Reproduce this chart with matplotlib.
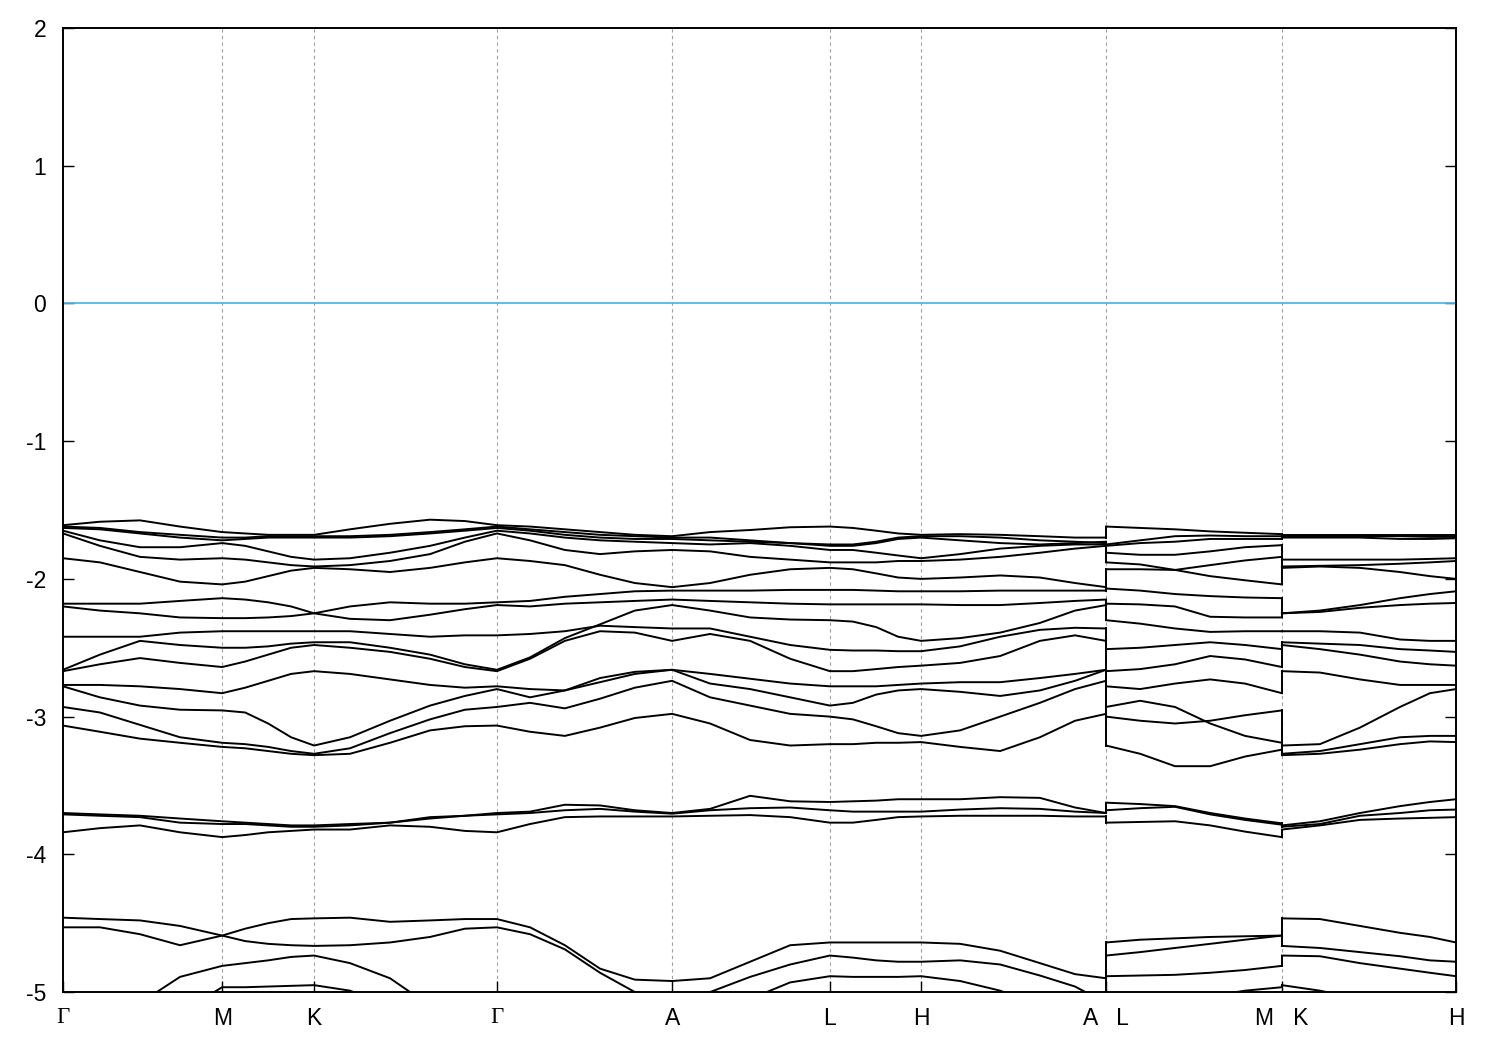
import numpy as np
import matplotlib
matplotlib.use("Agg")
import matplotlib.pyplot as plt

# high-symmetry points along the k-path
tick_pos = [0.0, 0.457, 0.721, 1.246, 1.749, 2.202, 2.464, 2.995, 3.500, 4.000]
tick_labels = ["Γ", "M", "K", "Γ", "A", "L", "H", "A   L", "M   K", "H"]

# k sample points: Γ-M-K-Γ-A-L-H-A | L-M | K-H
k_main = [0.000, 0.106, 0.221, 0.336, 0.457, 0.523, 0.589, 0.655, 0.721,
          0.824, 0.939, 1.054, 1.154, 1.246, 1.341, 1.441, 1.542, 1.642, 1.749,
          1.858, 1.973, 2.088, 2.202, 2.268, 2.335, 2.398, 2.464,
          2.576, 2.691, 2.805, 2.906, 2.995]
k_lm = [2.995, 3.093, 3.193, 3.294, 3.394, 3.500]
k_kh = [3.500, 3.609, 3.724, 3.839, 3.925, 4.000]

# energies (eV) per band: 32 points on the main path, then 6 on L-M, then 6 on K-H
top1 = [-1.61, -1.585, -1.575, -1.62, -1.66, -1.67, -1.68, -1.68, -1.68, -1.64, -1.60, -1.57, -1.58, -1.61,
        -1.62, -1.64, -1.66, -1.68, -1.69, -1.66, -1.645, -1.625, -1.62, -1.63, -1.65, -1.67, -1.68,
        -1.675, -1.68, -1.69, -1.70, -1.70,
        -1.62, -1.63, -1.64, -1.655, -1.665, -1.675,
        -1.68, -1.68, -1.68, -1.68, -1.68, -1.68]
top2 = [-1.62, -1.63, -1.66, -1.68, -1.70, -1.70, -1.69, -1.69, -1.69, -1.69, -1.68, -1.66, -1.64, -1.62,
        -1.64, -1.66, -1.68, -1.69, -1.70, -1.70, -1.72, -1.74, -1.76, -1.76, -1.74, -1.71, -1.70,
        -1.72, -1.74, -1.75, -1.74, -1.73,
        -1.75, -1.72, -1.69, -1.685, -1.69, -1.69,
        -1.69, -1.69, -1.69, -1.69, -1.695, -1.695]
top3 = [-1.63, -1.64, -1.67, -1.70, -1.72, -1.71, -1.70, -1.70, -1.70, -1.70, -1.69, -1.67, -1.65, -1.63,
        -1.65, -1.68, -1.70, -1.71, -1.71, -1.72, -1.73, -1.74, -1.75, -1.75, -1.73, -1.70, -1.69,
        -1.69, -1.70, -1.72, -1.73, -1.74,
        -1.76, -1.74, -1.73, -1.71, -1.71, -1.71,
        -1.70, -1.70, -1.70, -1.71, -1.71, -1.705]
top4 = [-1.65, -1.72, -1.77, -1.77, -1.74, -1.76, -1.80, -1.84, -1.86, -1.85, -1.81, -1.76, -1.70, -1.65,
        -1.67, -1.70, -1.72, -1.73, -1.74, -1.75, -1.74, -1.76, -1.79, -1.79, -1.81, -1.83, -1.85,
        -1.82, -1.78, -1.76, -1.75, -1.75,
        -1.81, -1.825, -1.825, -1.80, -1.77, -1.755,
        -1.86, -1.86, -1.86, -1.86, -1.855, -1.85]
top5 = [-1.67, -1.76, -1.84, -1.86, -1.85, -1.86, -1.88, -1.90, -1.91, -1.90, -1.87, -1.82, -1.73, -1.67,
        -1.72, -1.79, -1.82, -1.80, -1.79, -1.80, -1.84, -1.86, -1.88, -1.88, -1.88, -1.87, -1.87,
        -1.86, -1.84, -1.81, -1.78, -1.76,
        -1.93, -1.93, -1.935, -1.90, -1.866, -1.84,
        -1.91, -1.905, -1.90, -1.89, -1.88, -1.87]
top6 = [-1.85, -1.88, -1.95, -2.02, -2.04, -2.02, -1.98, -1.94, -1.92, -1.93, -1.95, -1.92, -1.88, -1.85,
        -1.87, -1.90, -1.97, -2.03, -2.06, -2.03, -1.97, -1.93, -1.92, -1.93, -1.96, -1.99, -2.00,
        -1.99, -1.975, -1.99, -2.03, -2.06,
        -1.88, -1.895, -1.935, -1.98, -2.01, -2.04,
        -1.92, -1.91, -1.92, -1.95, -1.98, -2.00]

mid1 = [-2.18, -2.18, -2.18, -2.16, -2.14, -2.15, -2.17, -2.20, -2.25, -2.29, -2.30, -2.26, -2.22, -2.19,
        -2.20, -2.18, -2.17, -2.16, -2.15, -2.16, -2.17, -2.18, -2.185, -2.185, -2.185, -2.185, -2.185,
        -2.19, -2.19, -2.175, -2.16, -2.15,
        -2.18, -2.185, -2.20, -2.275, -2.28, -2.28,
        -2.25, -2.24, -2.21, -2.19, -2.18, -2.175]
mid2 = [-2.20, -2.23, -2.25, -2.28, -2.285, -2.285, -2.28, -2.27, -2.25, -2.20, -2.17, -2.18, -2.18, -2.17,
        -2.16, -2.13, -2.11, -2.09, -2.085, -2.085, -2.085, -2.08, -2.08, -2.08, -2.085, -2.09, -2.09,
        -2.09, -2.085, -2.085, -2.085, -2.085,
        -2.07, -2.085, -2.11, -2.125, -2.135, -2.14,
        -2.25, -2.23, -2.19, -2.14, -2.11, -2.09]
mid3 = [-2.42, -2.42, -2.42, -2.39, -2.38, -2.38, -2.38, -2.38, -2.38, -2.38, -2.40, -2.42, -2.41, -2.41,
        -2.40, -2.38, -2.34, -2.35, -2.36, -2.36, -2.42, -2.48, -2.515, -2.52, -2.52, -2.525, -2.525,
        -2.49, -2.42, -2.37, -2.355, -2.36,
        -2.51, -2.50, -2.48, -2.46, -2.48, -2.51,
        -2.38, -2.38, -2.39, -2.44, -2.45, -2.45]
mid4 = [-2.66, -2.55, -2.45, -2.48, -2.50, -2.50, -2.49, -2.47, -2.46, -2.46, -2.50, -2.55, -2.62, -2.66,
        -2.57, -2.43, -2.33, -2.23, -2.19, -2.23, -2.28, -2.295, -2.30, -2.31, -2.35, -2.42, -2.45,
        -2.43, -2.39, -2.32, -2.23, -2.19,
        -2.30, -2.325, -2.36, -2.385, -2.38, -2.38,
        -2.46, -2.47, -2.48, -2.51, -2.52, -2.53]
mid5 = [-2.67, -2.62, -2.575, -2.61, -2.64, -2.60, -2.55, -2.50, -2.48, -2.50, -2.53, -2.58, -2.64, -2.67,
        -2.58, -2.45, -2.38, -2.39, -2.45, -2.40, -2.45, -2.58, -2.67, -2.67, -2.655, -2.64, -2.63,
        -2.61, -2.56, -2.45, -2.41, -2.45,
        -2.67, -2.655, -2.62, -2.56, -2.585, -2.64,
        -2.48, -2.51, -2.55, -2.60, -2.62, -2.63]
mid6 = [-2.77, -2.77, -2.78, -2.80, -2.83, -2.79, -2.74, -2.69, -2.67, -2.69, -2.73, -2.77, -2.79, -2.78,
        -2.80, -2.81, -2.75, -2.69, -2.66, -2.69, -2.725, -2.76, -2.78, -2.78, -2.78, -2.77, -2.76,
        -2.75, -2.75, -2.72, -2.69, -2.66,
        -2.78, -2.80, -2.76, -2.73, -2.76, -2.83,
        -2.67, -2.68, -2.73, -2.77, -2.77, -2.77]

low1 = [-2.78, -2.86, -2.92, -2.95, -2.955, -2.97, -3.05, -3.15, -3.21, -3.15, -3.03, -2.92, -2.85, -2.80,
        -2.86, -2.81, -2.72, -2.675, -2.66, -2.76, -2.80, -2.86, -2.92, -2.90, -2.84, -2.81, -2.80,
        -2.82, -2.85, -2.81, -2.74, -2.66,
        -2.93, -2.885, -2.93, -3.05, -3.14, -3.19,
        -3.21, -3.20, -3.08, -2.93, -2.83, -2.80]
low2 = [-2.93, -2.97, -3.06, -3.15, -3.19, -3.20, -3.22, -3.25, -3.27, -3.23, -3.12, -3.02, -2.95, -2.93,
        -2.90, -2.94, -2.87, -2.79, -2.74, -2.86, -2.92, -2.98, -3.00, -3.02, -3.07, -3.12, -3.14,
        -3.10, -3.00, -2.90, -2.80, -2.74,
        -3.00, -3.03, -3.05, -3.03, -2.99, -2.955,
        -3.27, -3.25, -3.20, -3.15, -3.14, -3.14]
low3 = [-3.065, -3.11, -3.16, -3.19, -3.22, -3.23, -3.25, -3.27, -3.28, -3.27, -3.19, -3.10, -3.07, -3.065,
        -3.11, -3.14, -3.08, -3.01, -2.98, -3.05, -3.17, -3.21, -3.20, -3.20, -3.19, -3.19, -3.185,
        -3.22, -3.25, -3.15, -3.03, -2.98,
        -3.21, -3.27, -3.36, -3.36, -3.29, -3.24,
        -3.28, -3.27, -3.24, -3.20, -3.18, -3.185]

d1 = [-3.70, -3.71, -3.72, -3.74, -3.76, -3.77, -3.78, -3.79, -3.79, -3.78, -3.77, -3.73, -3.72, -3.70,
      -3.69, -3.64, -3.645, -3.68, -3.70, -3.67, -3.575, -3.615, -3.62, -3.615, -3.61, -3.60, -3.60,
      -3.60, -3.585, -3.59, -3.66, -3.70,
      -3.625, -3.635, -3.65, -3.70, -3.74, -3.775,
      -3.79, -3.76, -3.70, -3.65, -3.62, -3.60]
d2 = [-3.71, -3.72, -3.73, -3.77, -3.78, -3.78, -3.79, -3.80, -3.80, -3.79, -3.77, -3.74, -3.72, -3.71,
      -3.70, -3.68, -3.67, -3.69, -3.705, -3.68, -3.665, -3.66, -3.68, -3.69, -3.69, -3.69, -3.69,
      -3.675, -3.665, -3.67, -3.69, -3.70,
      -3.68, -3.665, -3.655, -3.71, -3.75, -3.785,
      -3.80, -3.78, -3.72, -3.70, -3.68, -3.675]
d3 = [-3.84, -3.81, -3.79, -3.84, -3.875, -3.86, -3.84, -3.83, -3.82, -3.82, -3.79, -3.80, -3.83, -3.84,
      -3.78, -3.73, -3.725, -3.725, -3.725, -3.72, -3.715, -3.73, -3.77, -3.77, -3.75, -3.73, -3.725,
      -3.72, -3.72, -3.72, -3.725, -3.725,
      -3.77, -3.765, -3.76, -3.79, -3.835, -3.875,
      -3.82, -3.79, -3.75, -3.74, -3.735, -3.73]

e1 = [-4.46, -4.47, -4.48, -4.52, -4.59, -4.63, -4.65, -4.66, -4.665, -4.66, -4.64, -4.60, -4.54, -4.53,
      -4.58, -4.69, -4.86, -5.00, -5.08, -5.00, -4.89, -4.80, -4.735, -4.75, -4.77, -4.78, -4.78,
      -4.77, -4.80, -4.88, -4.96, -5.08,
      -4.735, -4.71, -4.68, -4.65, -4.62, -4.59,
      -4.665, -4.68, -4.71, -4.74, -4.77, -4.78]
e2 = [-4.53, -4.53, -4.58, -4.66, -4.59, -4.54, -4.50, -4.47, -4.465, -4.46, -4.49, -4.48, -4.47, -4.47,
      -4.53, -4.66, -4.83, -4.91, -4.92, -4.90, -4.78, -4.66, -4.64, -4.64, -4.64, -4.64, -4.64,
      -4.65, -4.70, -4.79, -4.87, -4.90,
      -4.64, -4.62, -4.61, -4.60, -4.595, -4.59,
      -4.465, -4.47, -4.52, -4.57, -4.60, -4.64]
e3 = [-5.50, -5.35, -5.08, -4.89, -4.81, -4.79, -4.77, -4.745, -4.735, -4.79, -4.90, -5.10, -5.35, -5.50,
      -5.45, -5.40, -5.35, -5.30, -5.25, -5.20, -5.05, -4.93, -4.885, -4.89, -4.89, -4.89, -4.885,
      -4.92, -4.99, -5.10, -5.20, -5.25,
      -4.885, -4.88, -4.875, -4.86, -4.84, -4.81,
      -4.735, -4.74, -4.79, -4.83, -4.86, -4.885]
e4 = [-5.70, -5.50, -5.30, -5.15, -4.965, -4.965, -4.96, -4.955, -4.95, -4.99, -5.10, -5.30, -5.50, -5.70,
      -5.60, -5.50, -5.45, -5.40, -5.35, -5.35, -5.30, -5.25, -5.30, -5.30, -5.30, -5.30, -5.30,
      -5.30, -5.30, -5.30, -5.30, -5.35,
      -5.30, -5.20, -5.12, -5.03, -4.99, -4.965,
      -4.95, -4.99, -5.05, -5.10, -5.15, -5.20]

bands = [top1, top2, top3, top4, top5, top6, mid1, mid2, mid3, mid4, mid5, mid6,
         low1, low2, low3, d1, d2, d3, e1, e2, e3, e4]

plt.rcParams['font.family'] = ['Liberation Sans', 'DejaVu Sans']
plt.rcParams['axes.unicode_minus'] = False
fig = plt.figure(figsize=(15, 10.5), dpi=100)
ax = fig.add_axes([0.042, 0.0552, 0.9287, 0.9181])

n1, n2 = len(k_main), len(k_lm)
for b in bands:
    b = np.array(b)
    ax.plot(k_main, b[:n1], color='black', lw=1.4, zorder=3)
    ax.plot(k_lm, b[n1:n1 + n2], color='black', lw=1.4, zorder=3)
    ax.plot(k_kh, b[n1 + n2:], color='black', lw=1.4, zorder=3)

# gnuplot joins band n across the path breaks with a vertical line
ends_a = np.sort([b[n1 - 1] for b in bands])
starts_l = np.sort([b[n1] for b in bands])
ends_m = np.sort([b[n1 + n2 - 1] for b in bands])
starts_k = np.sort([b[n1 + n2] for b in bands])
for y0, y1 in zip(ends_a, starts_l):
    ax.plot([k_main[-1], k_lm[0]], [y0, y1], color='black', lw=1.4, zorder=3)
for y0, y1 in zip(ends_m, starts_k):
    ax.plot([k_lm[-1], k_kh[0]], [y0, y1], color='black', lw=1.4, zorder=3)

# Fermi level
ax.axhline(0, color='#56b4e9', lw=1.3, zorder=2)
for x in tick_pos[1:-1]:
    ax.axvline(x, color='#a0a0a0', lw=0.8, ls=(0, (3, 3)), zorder=1)

ax.set_xlim(0, 4.0)
ax.set_ylim(-5, 2)
ax.set_xticks(tick_pos)
ax.set_xticklabels(tick_labels)
ax.set_yticks(range(-5, 3))
ax.tick_params(direction='in', length=8, width=1, labelsize=16.5, right=True)
ax.tick_params(axis='y', pad=12)
ax.tick_params(axis='x', pad=11)
for lab in ax.get_xticklabels():
    if lab.get_text() == "Γ":
        lab.set_fontfamily(['Liberation Serif', 'DejaVu Serif'])
for s in ax.spines.values():
    s.set_linewidth(1.4)

plt.savefig("out.png")
